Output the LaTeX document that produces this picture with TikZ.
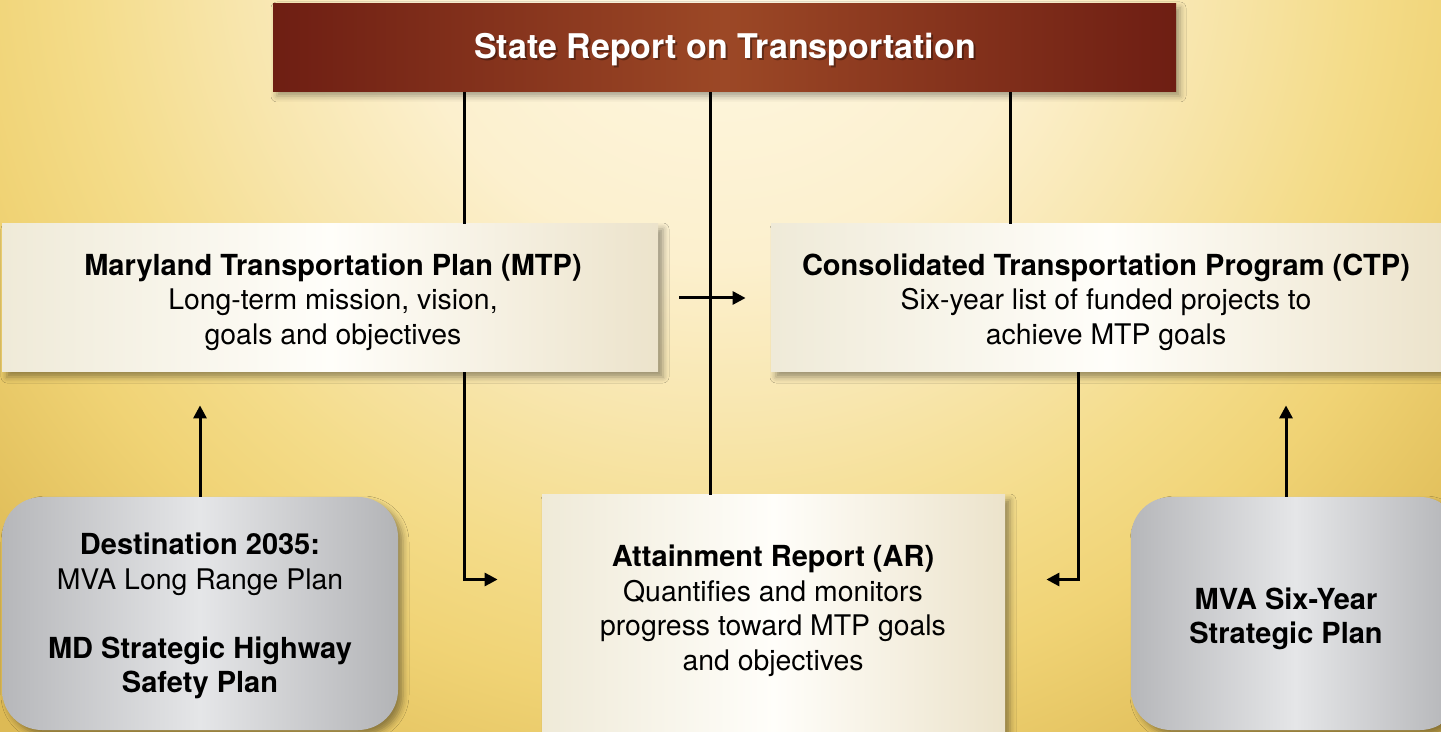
\documentclass[tikz,border=0pt]{standalone}
\usepackage{fontspec}
\setmainfont{TeX Gyre Heros}
\usetikzlibrary{fit,arrows.meta,shadows.blur}
\definecolor{bg0}{HTML}{FEF8E4}
\definecolor{bg1}{HTML}{FCF0CE}
\definecolor{bg2}{HTML}{F8E6AE}
\definecolor{bg3}{HTML}{F4DC8A}
\definecolor{bg4}{HTML}{F0D375}
\definecolor{bg5}{HTML}{E2C05C}
\definecolor{bg6}{HTML}{DDBA55}
\pgfdeclareradialshading{bgshade}{\pgfpoint{0bp}{0bp}}{color(0bp)=(bg0); color(8bp)=(bg1); color(12bp)=(bg2); color(16bp)=(bg3); color(19bp)=(bg4); color(23bp)=(bg5); color(25bp)=(bg6); color(50bp)=(bg6)}
\definecolor{redA}{HTML}{6E1E13}
\definecolor{redB}{HTML}{9C4826}
\definecolor{creamL}{HTML}{EFEAD8}
\definecolor{creamM}{HTML}{FFFEFA}
\definecolor{creamR}{HTML}{ECE3CB}
\definecolor{greyL}{HTML}{B6B7BA}
\definecolor{greyM}{HTML}{E5E6E8}
\definecolor{greyR}{HTML}{B3B4B7}
\newcommand\boxhead[1]{{\fontsize{14.5}{17.25}\selectfont\bfseries #1}}
\tikzset{
  bodyfont/.style={font=\fontsize{14.2}{17.25}\selectfont},
  boxtext/.style={bodyfont, align=center, inner sep=0pt},
  cream/.style={inner sep=0pt,
    left color=creamL, right color=creamR, middle color=creamM,
    blur shadow={shadow xshift=2.5pt, shadow yshift=-2.5pt, shadow blur radius=3pt, shadow opacity=38}},
  greybox/.style={inner sep=0pt, rounded corners=20pt,
    left color=greyL, right color=greyR, middle color=greyM,
    blur shadow={shadow xshift=2.5pt, shadow yshift=-2.5pt, shadow blur radius=3pt, shadow opacity=38}},
  banner/.style={inner sep=0pt, left color=redA, right color=redA, middle color=redB,
    blur shadow={shadow xshift=2pt, shadow yshift=-2pt, shadow blur radius=3pt, shadow opacity=35}},
  titlefont/.style={font=\fontsize{17}{20}\selectfont\bfseries},
  conn/.style={line width=1.5pt, black},
  arr/.style={conn, -{Triangle[length=6.5pt,width=6.5pt]}},
}
\begin{document}
\begin{tikzpicture}[x=0.5pt,y=-0.5pt]
\useasboundingbox (0,0) rectangle (1441,732);
\clip (0,0) rectangle (1441,732);
\fill[bg6] (0,0) rectangle (1441,732);
\shade[shading=bgshade] (720,-60) circle (1000);
% coordinates for vertical lines
\coordinate (x1) at (464,0);
\coordinate (x2) at (710,0);
\coordinate (x3) at (1078,0);
\coordinate (x4) at (1010,0);
% boxes
\node[banner, fit={(273,4) (1176,92)}] (top) {};
\node[titlefont, text=black, opacity=0.35] at (727,52) {State Report on Transportation};
\node[titlefont, text=white] (toptext) at (725,50) {State Report on Transportation};
\node[cream, fit={(2,224) (658,372)}] (mtp) {};
\node[cream, fit={(771,224) (1445,372)}] (ctp) {};
\node[cream, fit={(542,495) (1005,740)}] (ar) {};
\node[greybox, fit={(2,497) (398,730)}] (g1) {};
\node[greybox, fit={(1131,497) (1460,730)}] (g2) {};
% texts
\node[boxtext] (mtptext) at (333,302) {\boxhead{Maryland Transportation Plan (MTP)}\\Long-term mission, vision,\\goals and objectives};
\node[boxtext] (ctptext) at (1106,302) {\boxhead{Consolidated Transportation Program (CTP)}\\Six-year list of funded projects to\\achieve MTP goals};
\node[boxtext] (artext) at (773,611) {\boxhead{Attainment Report (AR)}\\Quantifies and monitors\\progress toward MTP goals\\and objectives};
\node[boxtext] (g1text) at (200,616) {\boxhead{Destination 2035:}\\MVA Long Range Plan\\[17.25pt]\boxhead{MD Strategic Highway}\\\boxhead{Safety Plan}};
\node[boxtext] (g2text) at (1286,619) {\boxhead{MVA Six-Year}\\\boxhead{Strategic Plan}};
% connectors
\draw[conn] (top.south -| x1) -- (mtp.north -| x1);
\draw[conn] (top.south -| x2) -- (ar.north -| x2);
\draw[conn] (top.south -| x4) -- (ctp.north -| x4);
\draw[arr, shorten <=10.5pt, shorten >=12.5pt] (mtp.east) -- (ctp.west);
\draw[arr, shorten >=22pt] (mtp.south -| x1) |- ([yshift=19pt]ar.west);
\draw[arr, shorten >=20.5pt] (ctp.south -| x3) |- ([yshift=19pt]ar.east);
\draw[arr, shorten >=16.5pt] (g1.north) -- (mtp.south -| g1.north);
\coordinate (g2top) at (1286,497);
\draw[arr, shorten >=16.5pt] (g2top) -- (ctp.south -| g2top);
\end{tikzpicture}
\end{document}
